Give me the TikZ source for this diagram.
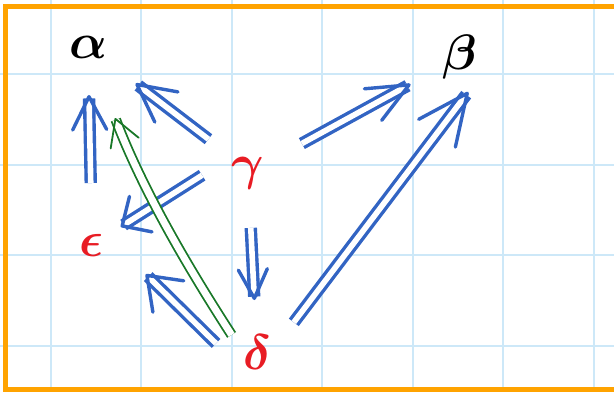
\documentclass[tikz,border=0pt]{standalone}
\usetikzlibrary{arrows.meta}

\definecolor{gridblue}{RGB}{205,232,248}
\definecolor{frameorange}{RGB}{255,163,0}
\definecolor{inkblue}{RGB}{50,100,195}
\definecolor{inkred}{RGB}{232,28,36}
\definecolor{inkgreen}{RGB}{25,120,40}

\tikzset{
  letter/.style={inner sep=0pt, font=\Huge\boldmath},
  pen/.style={draw=#1, line width=1.7pt, double=white, double distance=2.8pt, line cap=butt},
  barb/.style n args={3}{-{Straight Barb[length=#1, width=#2, line width=#3, round]}},
}

\begin{document}
\begin{tikzpicture}[x=0.5pt,y=0.5pt]
\useasboundingbox (0,0) rectangle (614,-392);
\clip (0,0) rectangle (614,-392);
% squared paper and frame
\draw[gridblue, line width=1pt] (50.7,0) -- (50.7,-392) (141.2,0) -- (141.2,-392)
  (231.7,0) -- (231.7,-392) (322.2,0) -- (322.2,-392) (412.7,0) -- (412.7,-392)
  (503.2,0) -- (503.2,-392) (593.7,0) -- (593.7,-392);
\draw[gridblue, line width=1pt] (0,-74.2) -- (614,-74.2) (0,-164.7) -- (614,-164.7)
  (0,-255.2) -- (614,-255.2) (0,-345.7) -- (614,-345.7);
\draw[frameorange, line width=2.5pt] (5.5,-6.5) rectangle (640,-389.5);

\node[letter] (alpha) at (88,-47) {$\alpha$};
\node[letter] (beta) at (460,-57) {$\beta$};
\node[letter, text=inkred] (gamma) at (248,-173) {$\gamma$};
\node[letter, text=inkred] (epsilon) at (92,-245) {$\epsilon$};
\node[letter, text=inkred] (delta) at (257,-352) {$\delta$};

\draw[pen=inkblue, barb={16.5pt}{17pt}{1.7pt}, shorten <=31pt, shorten >=24pt] (epsilon.center) -- (alpha.center);
\draw[pen=inkblue, barb={18.5pt}{19pt}{1.7pt}, shorten <=14.4pt, shorten >=30pt] (gamma.north west) -- (alpha.center);
\draw[pen=inkblue, barb={11pt}{21pt}{1.7pt}, shorten <=17.3pt, shorten >=17pt] (gamma.north west) -- (epsilon.center);
\draw[pen=inkblue, barb={20.5pt}{18pt}{1.7pt}, shorten <=30.7pt, shorten >=28.2pt] (gamma.center) -- (beta.center);
\draw[pen=inkblue, barb={14.5pt}{14.5pt}{1.7pt}, shorten <=27.5pt, shorten >=26pt] (gamma.center) -- (delta.center);
\draw[pen=inkblue, barb={25pt}{23pt}{1.7pt}, shorten <=18.6pt, shorten >=7.8pt] (delta.east) -- (beta.south east);
\draw[pen=inkblue, barb={15pt}{22pt}{1.7pt}, shorten <=18.7pt, shorten >=29pt] (delta.south west) -- (epsilon.north east);
\draw[pen=inkgreen, line width=0.9pt, double distance=3.5pt, barb={13pt}{15pt}{0.9pt}, shorten <=10.2pt, shorten >=38pt] (delta.west) to[bend left=6] (alpha.center);
\end{tikzpicture}
\end{document}
